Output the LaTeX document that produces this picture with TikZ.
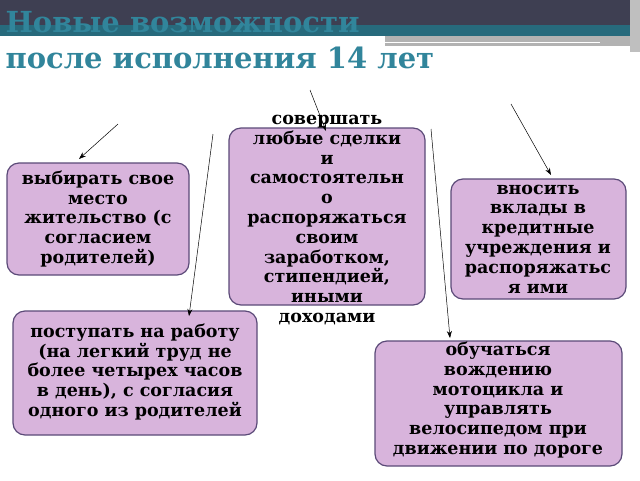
\documentclass[tikz,border=0pt]{standalone}
\usepackage{fontspec}
\setmainfont{DejaVu Serif}
\usetikzlibrary{arrows.meta}
\definecolor{boxfill}{HTML}{D8B4DC}
\definecolor{boxline}{HTML}{5B4A78}
\definecolor{titleteal}{HTML}{31859B}
\definecolor{headdark}{HTML}{3E3F52}
\tikzset{
  optbox/.style={draw=boxline,line width=1.2pt,fill=boxfill,rounded corners=12pt},
  opttext/.style={align=center,font=\bfseries\fontsize{17.5}{19.8}\selectfont},
  optarrow/.style={-{Stealth[length=7pt,width=5pt]},line width=0.5pt}
}
\begin{document}
\begin{tikzpicture}[x=1pt,y=-1pt]
    \useasboundingbox (0,0) rectangle (640,480);
    % Header band
    \fill[headdark] (0,0) rectangle (640,25);
    \fill[titleteal!80!black] (0,25) rectangle (640,36);
    \fill[gray!60] (385,36) rectangle (632,46);
    \draw[white,line width=1pt] (385,42) -- (600,42);
    \draw[white,line width=1pt] (520,50) -- (635,50);
    \fill[gray!50] (630,0) rectangle (640,52);
    \fill[white] (0,36) rectangle (385,80);
    % Title
    \node[anchor=west,text=titleteal,font=\bfseries\fontsize{29}{30}\selectfont] (title1) at (2,22) {Новые возможности};
    \node[anchor=west,text=titleteal,font=\bfseries\fontsize{29}{30}\selectfont] (title2) at (2,58) {после исполнения 14 лет};
    % Boxes
    \path[optbox] (229,128) rectangle (425,305);
    \node[opttext] (deals) at (327,220) {совершать\\любые сделки\\и\\самостоятельн\\о\\распоряжаться\\своим\\заработком,\\стипендией,\\иными\\доходами};
    \path[optbox] (7,163) rectangle (189,275);
    \node[opttext] (home) at (98,219) {выбирать свое\\место\\жительство (с\\согласием\\родителей)};
    \path[optbox] (451,179) rectangle (626,299);
    \node[opttext] (bank) at (538,239) {вносить\\вклады в\\кредитные\\учреждения и\\распоряжатьс\\я ими};
    \path[optbox] (13,311) rectangle (257,435);
    \node[opttext] (work) at (135,372) {поступать на работу\\(на легкий труд не\\более четырех часов\\в день), с согласия\\одного из родителей};
    \path[optbox] (375,341) rectangle (622,466);
    \node[opttext] (drive) at (498,400) {обучаться\\вождению\\мотоцикла и\\управлять\\велосипедом при\\движении по дороге};
    % Arrows
    \coordinate (a1) at (118,124); \coordinate (b1) at (79,159);
    \coordinate (a2) at (213,134); \coordinate (b2) at (189,316);
    \coordinate (a3) at (310,90);  \coordinate (b3) at (326,131);
    \coordinate (a4) at (431,129); \coordinate (b4) at (450,338);
    \coordinate (a5) at (511,104); \coordinate (b5) at (551,175);
    \foreach \i in {1,...,5}
      \draw[optarrow] (a\i) -- (b\i);
\end{tikzpicture}
\end{document}
